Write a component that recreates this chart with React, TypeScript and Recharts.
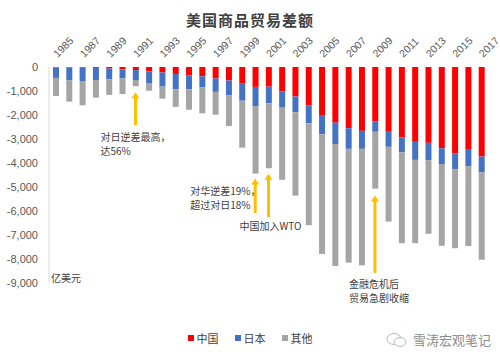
import React from "react";
import {
	BarChart,
	Bar,
	XAxis,
	YAxis,
	Legend,
	ReferenceLine,
	ReferenceDot,
} from "recharts";

// 亿美元, negative = deficit
const years = [
	"1985", "1986", "1987", "1988", "1989", "1990", "1991", "1992", "1993", "1994", "1995",
	"1996", "1997", "1998", "1999", "2000", "2001", "2002", "2003", "2004", "2005", "2006",
	"2007", "2008", "2009", "2010", "2011", "2012", "2013", "2014", "2015", "2016", "2017",
];
const china = [
	-10, -17, -28, -35, -62, -104, -127, -181, -229, -290, -340, -390, -480, -560, -670, -830,
	-820, -1010, -1230, -1610, -2000, -2320, -2550, -2660, -2260, -2700, -2930, -3120, -3160,
	-3390, -3590, -3450, -3730,
];
const japan = [
	-445, -545, -555, -505, -455, -375, -415, -486, -586, -640, -590, -450, -556, -625, -735,
	-800, -695, -681, -655, -736, -806, -889, -860, -750, -440, -625, -625, -750, -722, -653,
	-681, -681, -653,
];
const other = [
	-755, -882, -1014, -738, -643, -646, -258, -323, -505, -730, -850, -1090, -952, -1275,
	-1955, -2810, -2705, -3009, -3475, -4244, -4984, -5081, -4740, -4854, -2370, -3115, -3785,
	-3470, -3068, -3407, -3279, -3329, -3647,
];
const yTicks = [0, -1000, -2000, -3000, -4000, -5000, -6000, -7000, -8000, -9000];

// arrows: tip and tail values at a year
const arrows = [
	{ year: "1991", tip: -1050, tail: -2420 },
	{ year: "2000", tip: -4650, tail: -6080 },
	{ year: "2001", tip: -4450, tail: -6250 },
	{ year: "2009", tip: -5350, tail: -8580 },
];
const notes = [
	{ year: "1991", value: -2917, dx: -35, lines: ["对日逆差最高，", "达56%"] },
	{ year: "2000", value: -5167, dx: -65, lines: ["对华逆差19%，", "超过对日18%"] },
	{ year: "2001", value: -6625, dx: -29, lines: ["中国加入WTO"] },
	{ year: "2009", value: -9083, dx: -26, lines: ["金融危机后", "贸易急剧收缩"] },
];

const data = years.map((year, i) => ({
	year,
	china: china[i],
	japan: japan[i],
	other: other[i],
}));

const cjk = '"Noto Sans CJK SC", sans-serif';
const num = '"Liberation Sans", Arial, sans-serif';
const arrowColor = "#FFC000";

const renderYearTick = (props: any) => {
	const { x, y, payload } = props;
	return (
		<g transform={`translate(${x + 2}, ${y}) rotate(-45)`}>
			<text x={0} y={0} textAnchor="start" fontSize={10.5} fontFamily={num} fill="#595959">
				{payload.value}
			</text>
		</g>
	);
};

const ArrowHead = (props: any) => {
	const { cx, cy } = props;
	return (
		<polygon
			points={`${cx},${cy} ${cx - 4},${cy + 6} ${cx + 4},${cy + 6}`}
			fill={arrowColor}
		/>
	);
};

const makeNote = (dx: number, lines: string[]) => (props: any) => {
	const { cx, cy } = props;
	return (
		<g>
			{lines.map((t, i) => (
				<text
					key={i}
					x={cx + dx}
					y={cy + i * 14}
					dy="0.35em"
					fontSize={10}
					fontFamily={cjk}
					fill="#404040"
				>
					{t}
				</text>
			))}
		</g>
	);
};

const legendItems = [
	{ name: "中国", color: "#FF0000" },
	{ name: "日本", color: "#4472C4" },
	{ name: "其他", color: "#A5A5A5" },
];

const LegendContent = () => (
	<div style={{ display: "flex", justifyContent: "center", gap: 16 }}>
		{legendItems.map((it) => (
			<span
				key={it.name}
				style={{
					display: "flex",
					alignItems: "center",
					fontFamily: cjk,
					fontSize: 11,
					color: "#404040",
				}}
			>
				<span
					style={{
						width: 6,
						height: 6,
						background: it.color,
						marginRight: 3,
						display: "inline-block",
					}}
				/>
				{it.name}
			</span>
		))}
	</div>
);

const App: React.FC = () => {
	return (
		<div
			style={{
				position: "absolute",
				left: 0,
				top: 0,
				width: 500,
				height: 360,
				background: "#fff",
			}}
		>
			<div
				style={{
					position: "absolute",
					top: 9,
					width: 500,
					textAlign: "center",
					fontFamily: cjk,
					fontSize: 15,
					fontWeight: 700,
					color: "#404040",
					letterSpacing: 1,
				}}
			>
				美国商品贸易差额
			</div>
			<BarChart
				width={500}
				height={360}
				data={data}
				margin={{ top: 42, right: 12, left: 9, bottom: 57 }}
				style={{ overflow: "visible" }}
			>
				<XAxis
					dataKey="year"
					orientation="top"
					interval={1}
					axisLine={false}
					tickLine={false}
					tickSize={0}
					tickMargin={9}
					height={25}
					tick={renderYearTick}
				/>
				<YAxis
					domain={[-9000, 0]}
					ticks={yTicks}
					width={40}
					axisLine={{ stroke: "#D9D9D9" }}
					tickLine={false}
					tickSize={0}
					tickMargin={11}
					tick={{ fontSize: 11, fontFamily: num, fill: "#595959" }}
					tickFormatter={(v: number) => v.toLocaleString("en-US")}
				/>
				<Legend
					height={20}
					content={<LegendContent />}
					wrapperStyle={{ top: 330, left: 0, width: 500 }}
				/>
				<Bar dataKey="china" name="中国" stackId="a" fill="#FF0000" barSize={6} isAnimationActive={false} />
				<Bar dataKey="japan" name="日本" stackId="a" fill="#4472C4" barSize={6} isAnimationActive={false} />
				<Bar dataKey="other" name="其他" stackId="a" fill="#A5A5A5" barSize={6} isAnimationActive={false} />
				{arrows.map((a) => (
					<ReferenceLine
						key={"s" + a.year}
						segment={[
							{ x: a.year, y: a.tip - 200 },
							{ x: a.year, y: a.tail },
						]}
						stroke={arrowColor}
						strokeWidth={3}
						ifOverflow="visible"
					/>
				))}
				{arrows.map((a) => (
					<ReferenceDot
						key={"h" + a.year}
						x={a.year}
						y={a.tip}
						ifOverflow="visible"
						shape={<ArrowHead />}
					/>
				))}
				{notes.map((n) => (
					<ReferenceDot
						key={"n" + n.year}
						x={n.year}
						y={n.value}
						ifOverflow="visible"
						shape={makeNote(n.dx, n.lines)}
					/>
				))}
			</BarChart>
			<div
				style={{
					position: "absolute",
					left: 51,
					top: 270,
					fontFamily: cjk,
					fontSize: 10,
					color: "#404040",
				}}
			>
				亿美元
			</div>
			<div
				style={{
					position: "absolute",
					left: 386,
					top: 330,
					fontFamily: cjk,
					fontSize: 13,
					color: "#8C8C8C",
					display: "flex",
					alignItems: "center",
					whiteSpace: "nowrap",
				}}
			>
				<svg width={22} height={16} style={{ marginRight: 5 }}>
					<ellipse cx={8} cy={7} rx={7} ry={5.5} fill="none" stroke="#B8B8B8" strokeWidth={1} />
					<ellipse cx={14} cy={10} rx={6} ry={4.5} fill="#fff" stroke="#B8B8B8" strokeWidth={1} />
				</svg>
				雪涛宏观笔记
			</div>
		</div>
	);
};

export default App;
